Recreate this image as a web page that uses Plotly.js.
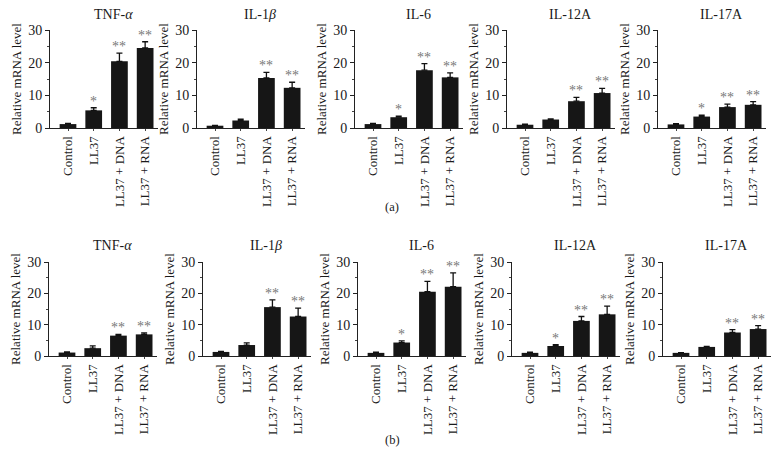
<!DOCTYPE html>
<html>
<head>
<meta charset="utf-8">
<script src="https://cdn.plot.ly/plotly-3.0.1.min.js"></script>
<style>
  html, body { margin: 0; padding: 0; background: #fff; }
  #chart { width: 784px; height: 475px; }
</style>
</head>
<body>
<div id="chart"></div>
<script>
// Relative mRNA levels, panel (a) and panel (b)
var groups = ['Control', 'LL37', 'LL37 + DNA', 'LL37 + RNA'];
var genes = ['TNF-<i>α</i>', 'IL-1<i>β</i>', 'IL-6', 'IL-12A', 'IL-17A'];

var meansA = [
  [1.2, 5.4, 20.4, 24.5],
  [0.7, 2.3, 15.3, 12.3],
  [1.2, 3.3, 17.7, 15.5],
  [1.0, 2.6, 8.2, 10.7],
  [1.1, 3.5, 6.4, 7.1]
];
var errsA = [
  [0.2, 0.8, 2.5, 1.9],
  [0.1, 0.4, 1.7, 1.7],
  [0.2, 0.3, 2.0, 1.4],
  [0.2, 0.2, 1.2, 1.4],
  [0.2, 0.4, 0.9, 1.0]
];
var starsA = [
  ['', '*', '**', '**'],
  ['', '', '**', '**'],
  ['', '*', '**', '**'],
  ['', '', '**', '**'],
  ['', '*', '**', '**']
];

var meansB = [
  [1.1, 2.5, 6.5, 6.9],
  [1.3, 3.5, 15.6, 12.6],
  [1.0, 4.3, 20.5, 22.1],
  [1.0, 3.2, 11.2, 13.3],
  [1.0, 2.9, 7.5, 8.6]
];
var errsB = [
  [0.2, 0.7, 0.4, 0.5],
  [0.2, 0.7, 2.3, 2.7],
  [0.2, 0.5, 3.3, 4.4],
  [0.2, 0.4, 1.4, 2.6],
  [0.1, 0.2, 0.9, 1.1]
];
var starsB = [
  ['', '', '**', '**'],
  ['', '', '**', '**'],
  ['', '*', '**', '**'],
  ['', '*', '**', '**'],
  ['', '', '**', '**']
];

var W = 784, H = 475;
var serif = 'Liberation Serif, Times New Roman, serif';
var panelW = 108;
var rows = [
  { means: meansA, errs: errsA, stars: starsA, left: [50, 197, 355, 507, 658], top: 30, bottom: 128, titleY: 15, tag: '(a)', tagY: 207 },
  { means: meansB, errs: errsB, stars: starsB, left: [49, 203, 358, 512, 663], top: 262, bottom: 356, titleY: 245, tag: '(b)', tagY: 449 }
];

var traces = [];
var annotations = [];
var layout = {
  width: W, height: H,
  margin: { l: 0, r: 0, t: 0, b: 0 },
  paper_bgcolor: '#fff', plot_bgcolor: '#fff',
  showlegend: false,
  font: { family: serif, color: '#1a1a1a', size: 12 },
  annotations: annotations
};

rows.forEach(function(row, r) {
  row.means.forEach(function(vals, g) {
    var k = r * 5 + g + 1;
    var xa = 'x' + (k === 1 ? '' : k), ya = 'y' + (k === 1 ? '' : k);
    traces.push({
      type: 'bar',
      x: groups, y: vals,
      xaxis: xa, yaxis: ya,
      width: 0.65,
      marker: { color: '#161616', line: { width: 0 } },
      error_y: {
        type: 'data', symmetric: false,
        array: row.errs[g],
        arrayminus: vals.map(function() { return 0; }),
        color: '#111', thickness: 1.3, width: 3
      },
      hoverinfo: 'x+y'
    });
    layout['xaxis' + (k === 1 ? '' : k)] = {
      domain: [row.left[g] / W, (row.left[g] + panelW) / W],
      anchor: ya,
      type: 'category',
      range: [-0.7, 3.5],
      showline: true, linecolor: '#222', linewidth: 1,
      ticks: 'outside', ticklen: 2, tickcolor: '#444',
      tickangle: -90,
      tickfont: { family: serif, size: 13, color: '#1a1a1a' },
      showgrid: false, zeroline: false, fixedrange: true
    };
    layout['yaxis' + (k === 1 ? '' : k)] = {
      domain: [(H - row.bottom) / H, (H - row.top) / H],
      anchor: xa,
      range: [0, 30],
      dtick: 10,
      showline: true, linecolor: '#222', linewidth: 1,
      ticks: 'outside', ticklen: 4, tickcolor: '#222',
      minor: { dtick: 5, ticks: 'outside', ticklen: 2, tickcolor: '#444' },
      tickfont: { family: serif, size: 14, color: '#1a1a1a' },
      title: { text: 'Relative mRNA level', font: { family: serif, size: 13, color: '#1a1a1a' }, standoff: 3 },
      showgrid: false, zeroline: false, fixedrange: true
    };
    annotations.push({
      xref: xa, yref: 'paper',
      x: 1.75, y: (H - row.titleY) / H,
      yanchor: 'middle', showarrow: false,
      text: genes[g],
      font: { family: serif, size: 14, color: '#1a1a1a' }
    });
    row.stars[g].forEach(function(s, i) {
      if (!s) return;
      annotations.push({
        xref: xa, yref: ya,
        x: groups[i], y: vals[i] + row.errs[g][i],
        yanchor: 'bottom', yshift: -3, showarrow: false,
        text: s,
        font: { family: serif, size: 14, color: '#777' }
      });
    });
  });
  annotations.push({
    xref: 'paper', yref: 'paper',
    x: 392 / W, y: (H - row.tagY) / H,
    showarrow: false, text: row.tag,
    font: { family: serif, size: 12.5, color: '#1a1a1a' }
  });
});

Plotly.newPlot('chart', traces, layout, { displayModeBar: false, staticPlot: true });
</script>
</body>
</html>
